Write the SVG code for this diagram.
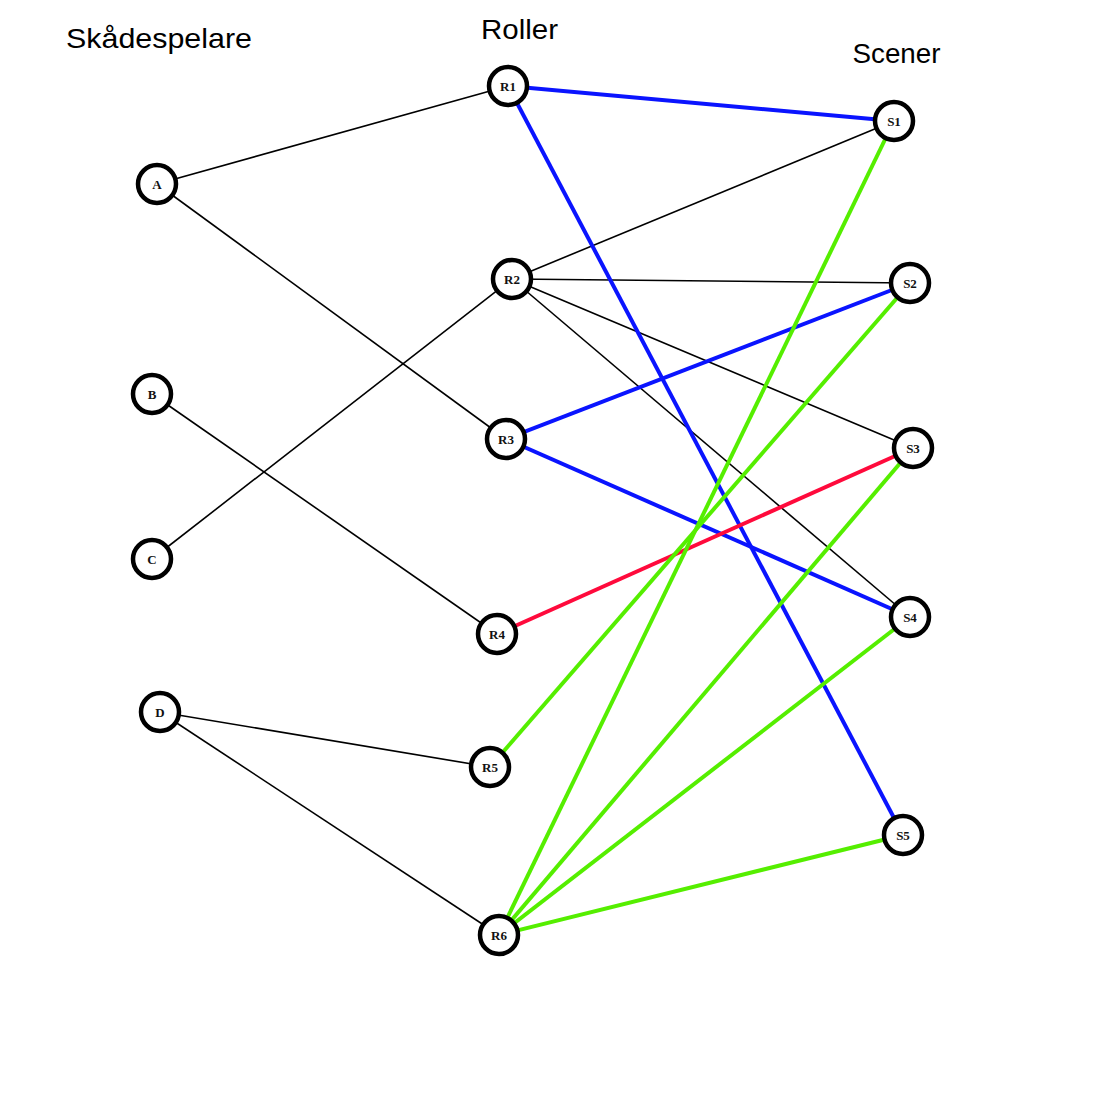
<svg xmlns="http://www.w3.org/2000/svg" width="1097" height="1097" viewBox="0 0 1097 1097">
<style>
.bg{fill:#fff}
.title{font-family:"Liberation Sans",Arial,sans-serif;font-size:28px;fill:#000;text-anchor:middle}
.node circle{fill:#fff;stroke:#000;stroke-width:4.5}
.node text{font-family:"Liberation Serif","Times New Roman",serif;font-weight:bold;font-size:13px;fill:#111;text-anchor:middle;dominant-baseline:central}
.e{stroke:#000;stroke-width:1.6;fill:none}
.b{stroke:#0a14ff;stroke-width:4;fill:none}
.g{stroke:#55ee00;stroke-width:4;fill:none}
.r{stroke:#ff0a3c;stroke-width:4;fill:none}
</style>
<rect class="bg" x="0" y="0" width="1097" height="1097"/>
<g id="titles">
<text class="title" x="159" y="48" textLength="186" lengthAdjust="spacingAndGlyphs">Skådespelare</text>
<text class="title" x="519.5" y="39" textLength="77" lengthAdjust="spacingAndGlyphs">Roller</text>
<text class="title" x="896.5" y="63" textLength="88" lengthAdjust="spacingAndGlyphs">Scener</text>
</g>
<g id="connectors">
<line class="e" x1="157" y1="184" x2="508" y2="86"/>
<line class="e" x1="157" y1="184" x2="506" y2="439"/>
<line class="e" x1="152" y1="394" x2="497" y2="634"/>
<line class="e" x1="152" y1="559" x2="512" y2="279"/>
<line class="e" x1="160" y1="712" x2="490" y2="767"/>
<line class="e" x1="160" y1="712" x2="499" y2="935"/>
<line class="e" x1="512" y1="279" x2="894" y2="121"/>
<line class="e" x1="512" y1="279" x2="910" y2="283"/>
<line class="e" x1="512" y1="279" x2="913" y2="448"/>
<line class="e" x1="512" y1="279" x2="910" y2="617"/>
<line class="b" x1="508" y1="86" x2="894" y2="121"/>
<line class="b" x1="508" y1="86" x2="903" y2="835"/>
<line class="b" x1="506" y1="439" x2="910" y2="283"/>
<line class="b" x1="506" y1="439" x2="910" y2="617"/>
<line class="r" x1="497" y1="634" x2="913" y2="448"/>
<line class="g" x1="490" y1="767" x2="910" y2="283"/>
<line class="g" x1="499" y1="935" x2="894" y2="121"/>
<line class="g" x1="499" y1="935" x2="913" y2="448"/>
<line class="g" x1="499" y1="935" x2="910" y2="617"/>
<line class="g" x1="499" y1="935" x2="903" y2="835"/>
</g>
<g id="A" class="node"><circle cx="157" cy="184" r="19"/><text x="157" y="184">A</text></g>
<g id="B" class="node"><circle cx="152" cy="394" r="19"/><text x="152" y="394">B</text></g>
<g id="C" class="node"><circle cx="152" cy="559" r="19"/><text x="152" y="559">C</text></g>
<g id="D" class="node"><circle cx="160" cy="712" r="19"/><text x="160" y="712">D</text></g>
<g id="R1" class="node"><circle cx="508" cy="86" r="19"/><text x="508" y="86">R1</text></g>
<g id="R2" class="node"><circle cx="512" cy="279" r="19"/><text x="512" y="279">R2</text></g>
<g id="R3" class="node"><circle cx="506" cy="439" r="19"/><text x="506" y="439">R3</text></g>
<g id="R4" class="node"><circle cx="497" cy="634" r="19"/><text x="497" y="634">R4</text></g>
<g id="R5" class="node"><circle cx="490" cy="767" r="19"/><text x="490" y="767">R5</text></g>
<g id="R6" class="node"><circle cx="499" cy="935" r="19"/><text x="499" y="935">R6</text></g>
<g id="S1" class="node"><circle cx="894" cy="121" r="19"/><text x="894" y="121">S1</text></g>
<g id="S2" class="node"><circle cx="910" cy="283" r="19"/><text x="910" y="283">S2</text></g>
<g id="S3" class="node"><circle cx="913" cy="448" r="19"/><text x="913" y="448">S3</text></g>
<g id="S4" class="node"><circle cx="910" cy="617" r="19"/><text x="910" y="617">S4</text></g>
<g id="S5" class="node"><circle cx="903" cy="835" r="19"/><text x="903" y="835">S5</text></g>
</svg>
